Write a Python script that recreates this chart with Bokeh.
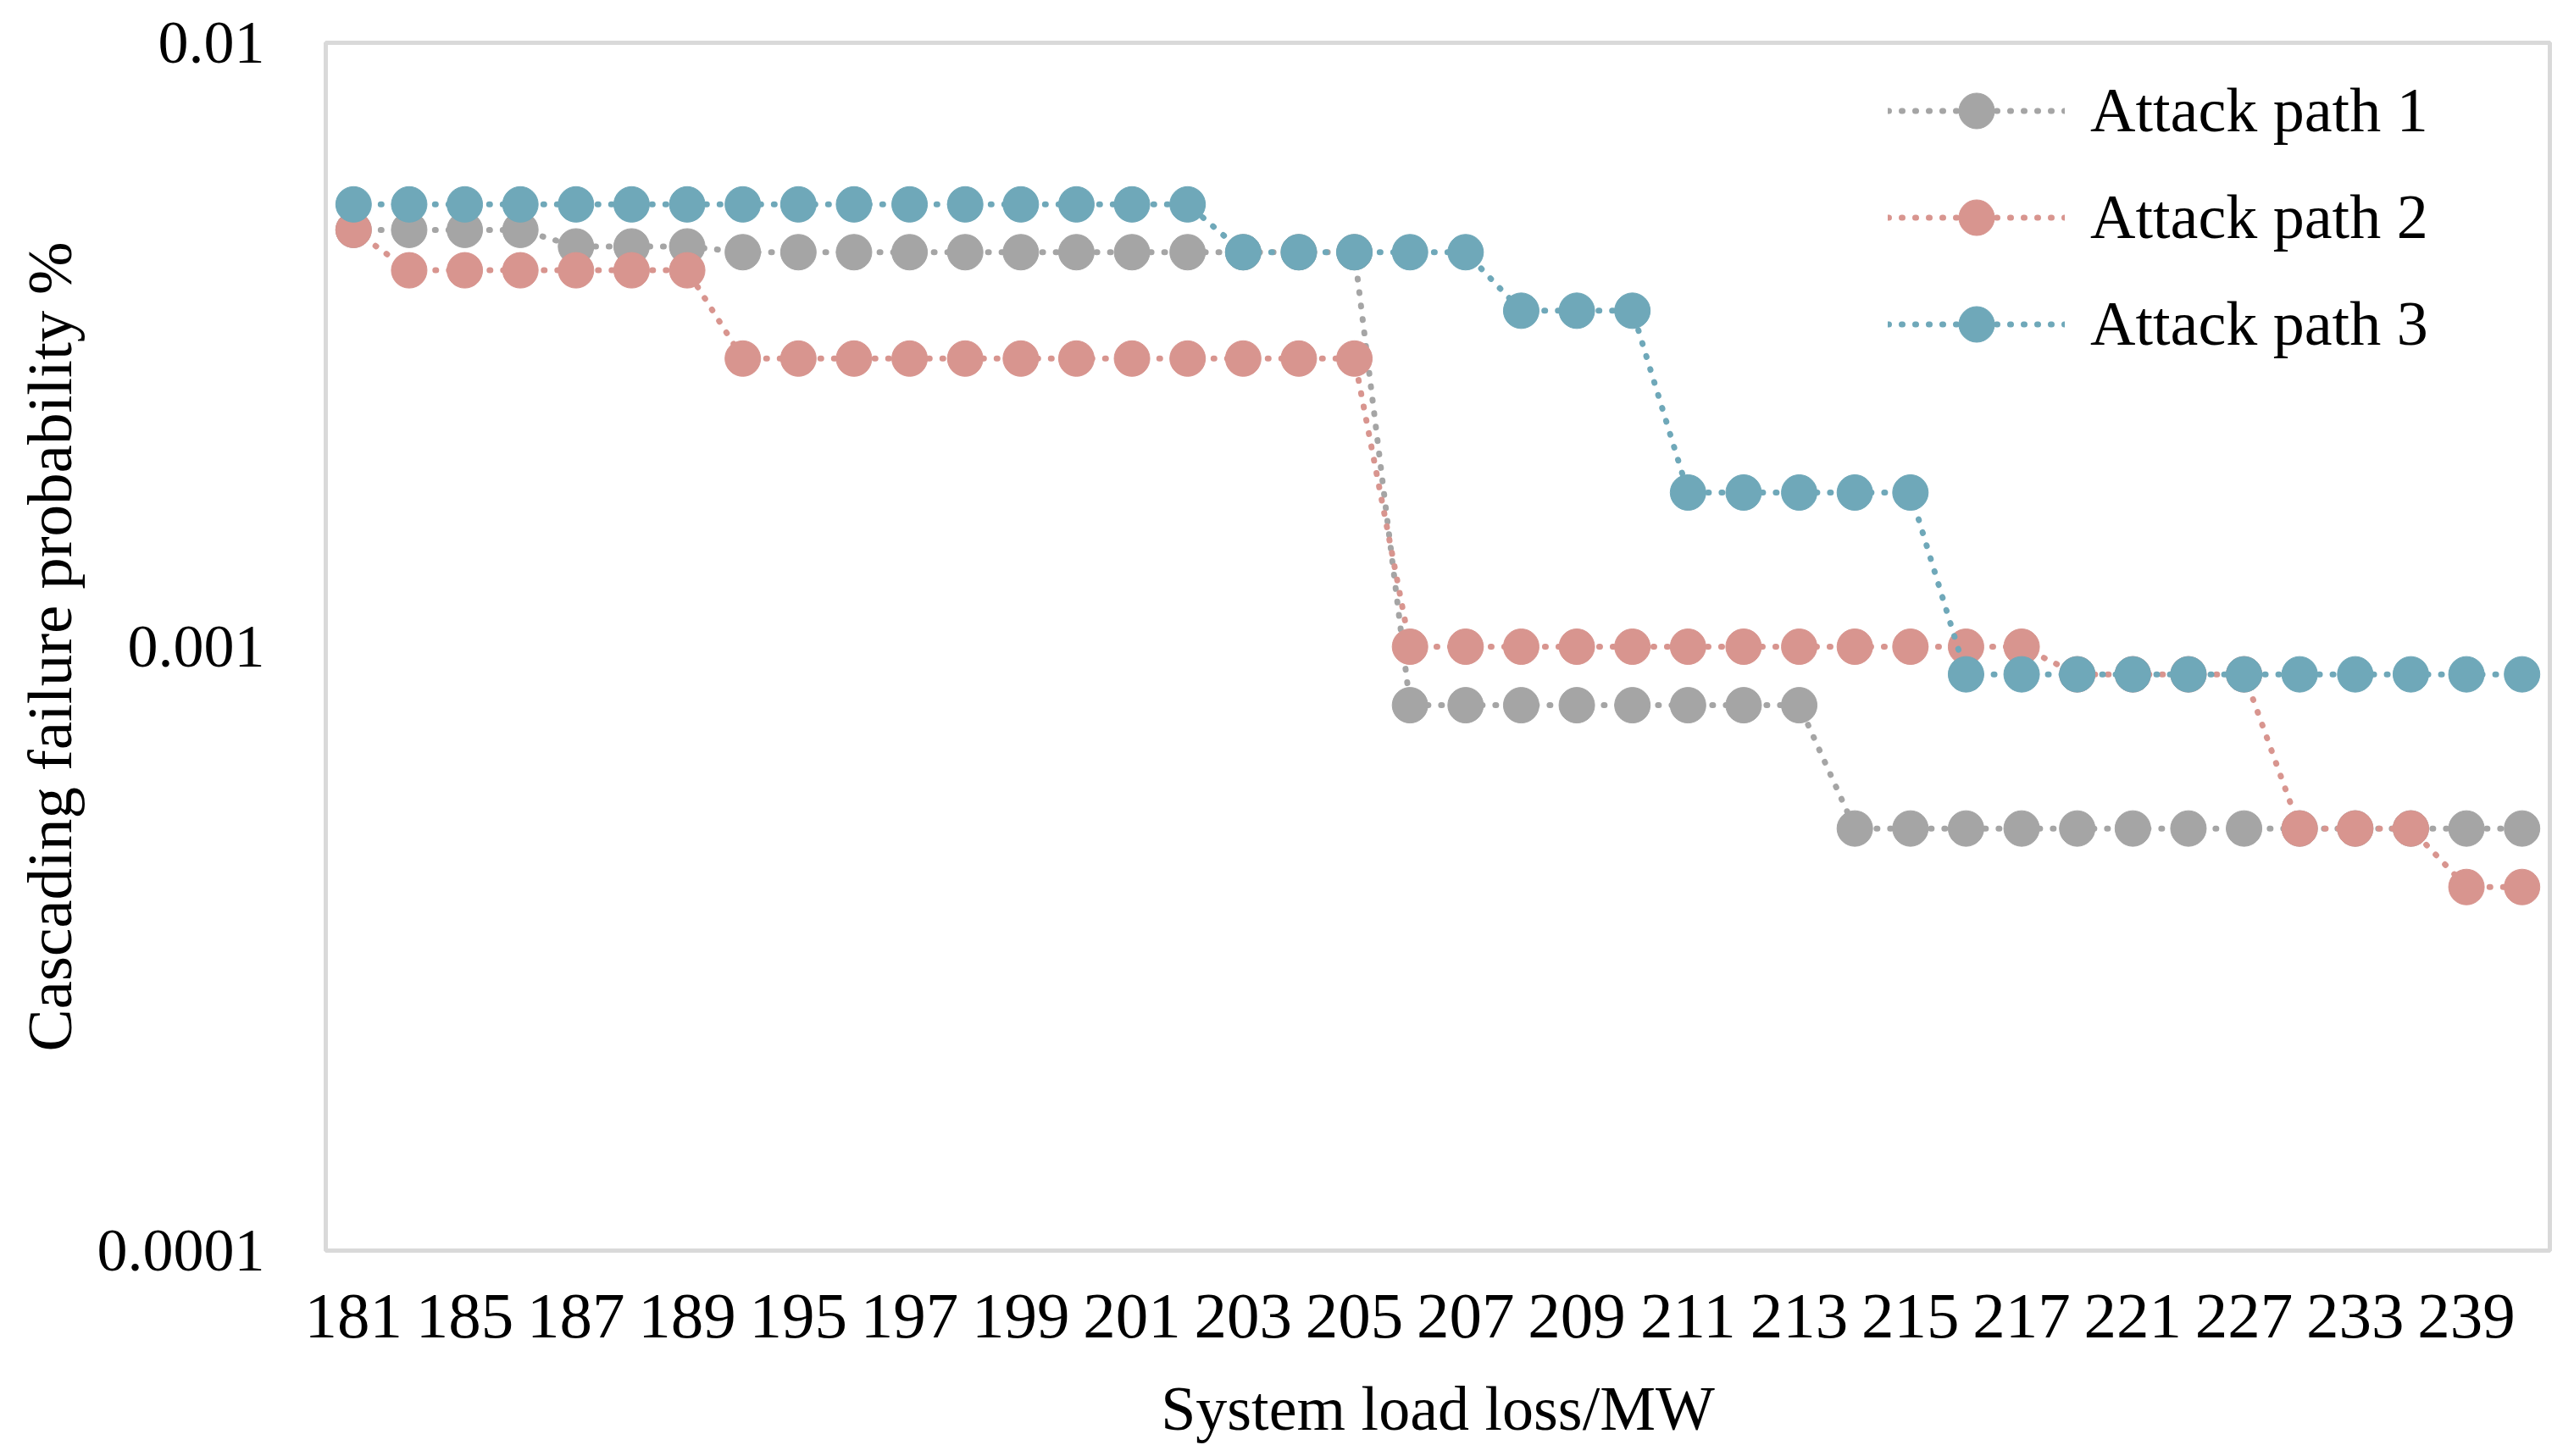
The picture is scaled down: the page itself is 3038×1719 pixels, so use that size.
from bokeh.plotting import figure
from bokeh.models import FixedTicker, Legend, LegendItem
from bokeh.embed import file_html
from bokeh.resources import INLINE

# System load loss / MW (only every other category is labelled on the axis)
categories = ["181", "183", "185", "186", "187", "188", "189", "192", "195", "196",
              "197", "198", "199", "200", "201", "202", "203", "204", "205", "206",
              "207", "208", "209", "210", "211", "212", "213", "214", "215", "216",
              "217", "219", "221", "224", "227", "230", "233", "236", "239", "241"]

path1 = [0.0049, 0.0049, 0.0049, 0.0049, 0.0046, 0.0046, 0.0046, 0.0045, 0.0045, 0.0045,
         0.0045, 0.0045, 0.0045, 0.0045, 0.0045, 0.0045, 0.0045, 0.0045, 0.0045, 0.0008,
         0.0008, 0.0008, 0.0008, 0.0008, 0.0008, 0.0008, 0.0008, 0.0005, 0.0005, 0.0005,
         0.0005, 0.0005, 0.0005, 0.0005, 0.0005, 0.0005, 0.0005, 0.0005, 0.0005, 0.0005]

path2 = [0.0049, 0.0042, 0.0042, 0.0042, 0.0042, 0.0042, 0.0042, 0.0030, 0.0030, 0.0030,
         0.0030, 0.0030, 0.0030, 0.0030, 0.0030, 0.0030, 0.0030, 0.0030, 0.0030, 0.0010,
         0.0010, 0.0010, 0.0010, 0.0010, 0.0010, 0.0010, 0.0010, 0.0010, 0.0010, 0.0010,
         0.0010, 0.0009, 0.0009, 0.0009, 0.0009, 0.0005, 0.0005, 0.0005, 0.0004, 0.0004]

path3 = [0.0054, 0.0054, 0.0054, 0.0054, 0.0054, 0.0054, 0.0054, 0.0054, 0.0054, 0.0054,
         0.0054, 0.0054, 0.0054, 0.0054, 0.0054, 0.0054, 0.0045, 0.0045, 0.0045, 0.0045,
         0.0045, 0.0036, 0.0036, 0.0036, 0.0018, 0.0018, 0.0018, 0.0018, 0.0018, 0.0009,
         0.0009, 0.0009, 0.0009, 0.0009, 0.0009, 0.0009, 0.0009, 0.0009, 0.0009, 0.0009]

series_names = ["Attack path 1", "Attack path 2", "Attack path 3"]
series_colors = ["#A5A5A5", "#D8958F", "#6FA8B9"]

y_ticks = [0.0001, 0.001, 0.01]
y_tick_labels = ["0.0001", "0.001", "0.01"]

FONT = "Liberation Serif"

x = list(range(len(categories)))

p = figure(width=3030, height=1711,
           x_range=(-0.5, len(categories) - 0.5), y_range=(0.0001, 0.01),
           y_axis_type="log", output_backend="svg", toolbar_location=None,
           min_border_left=384, min_border_right=21,
           min_border_top=50, min_border_bottom=235)

p.background_fill_color = "white"
p.border_fill_color = "white"
p.outline_line_color = "#D9D9D9"
p.outline_line_width = 5
p.xgrid.visible = False
p.ygrid.visible = False

items = []
for name, col, vals in zip(series_names, series_colors, [path1, path2, path3]):
    lr = p.line(x, vals, line_color=col, line_width=7, line_dash="1 15", line_cap="round")
    sr = p.scatter(x, vals, size=42, fill_color=col, line_color=col, line_width=1)
    items.append(LegendItem(label=name, renderers=[lr, sr]))

# x axis
even_ticks = x[::2]
p.xaxis.ticker = FixedTicker(ticks=even_ticks)
p.xaxis.major_label_overrides = {i: categories[i] for i in even_ticks}
p.xaxis.axis_label = "System load loss/MW"

# y axis
p.yaxis.ticker = FixedTicker(ticks=y_ticks)
p.yaxis.major_label_overrides = {t: l for t, l in zip(y_ticks, y_tick_labels)}
p.yaxis.axis_label = "Cascading failure probability %"

for ax in (p.xaxis[0], p.yaxis[0]):
    ax.axis_line_color = None
    ax.major_tick_line_color = None
    ax.minor_tick_line_color = None
    ax.major_tick_out = 0
    ax.major_tick_in = 0
    ax.minor_tick_out = 0
    ax.minor_tick_in = 0
    ax.major_label_text_font = FONT
    ax.major_label_text_color = "black"
    ax.axis_label_text_font = FONT
    ax.axis_label_text_font_style = "normal"
    ax.axis_label_text_color = "black"

p.xaxis.major_label_text_font_size = "77px"
p.xaxis.major_label_standoff = 52
p.xaxis.axis_label_text_font_size = "74px"
p.xaxis.axis_label_standoff = 40

p.yaxis.major_label_text_font_size = "72px"
p.yaxis.major_label_standoff = 72
p.yaxis.axis_label_text_font_size = "75px"
p.yaxis.axis_label_standoff = 12

legend = Legend(items=items, location=(1844, 1041),
                glyph_width=209, glyph_height=105, label_height=105,
                label_standoff=30, spacing=21, padding=0, margin=0,
                border_line_color=None, background_fill_alpha=0,
                label_text_font=FONT, label_text_font_size="74px",
                label_text_color="black")
p.add_layout(legend)

open("out.html", "w").write(file_html(p, INLINE))
